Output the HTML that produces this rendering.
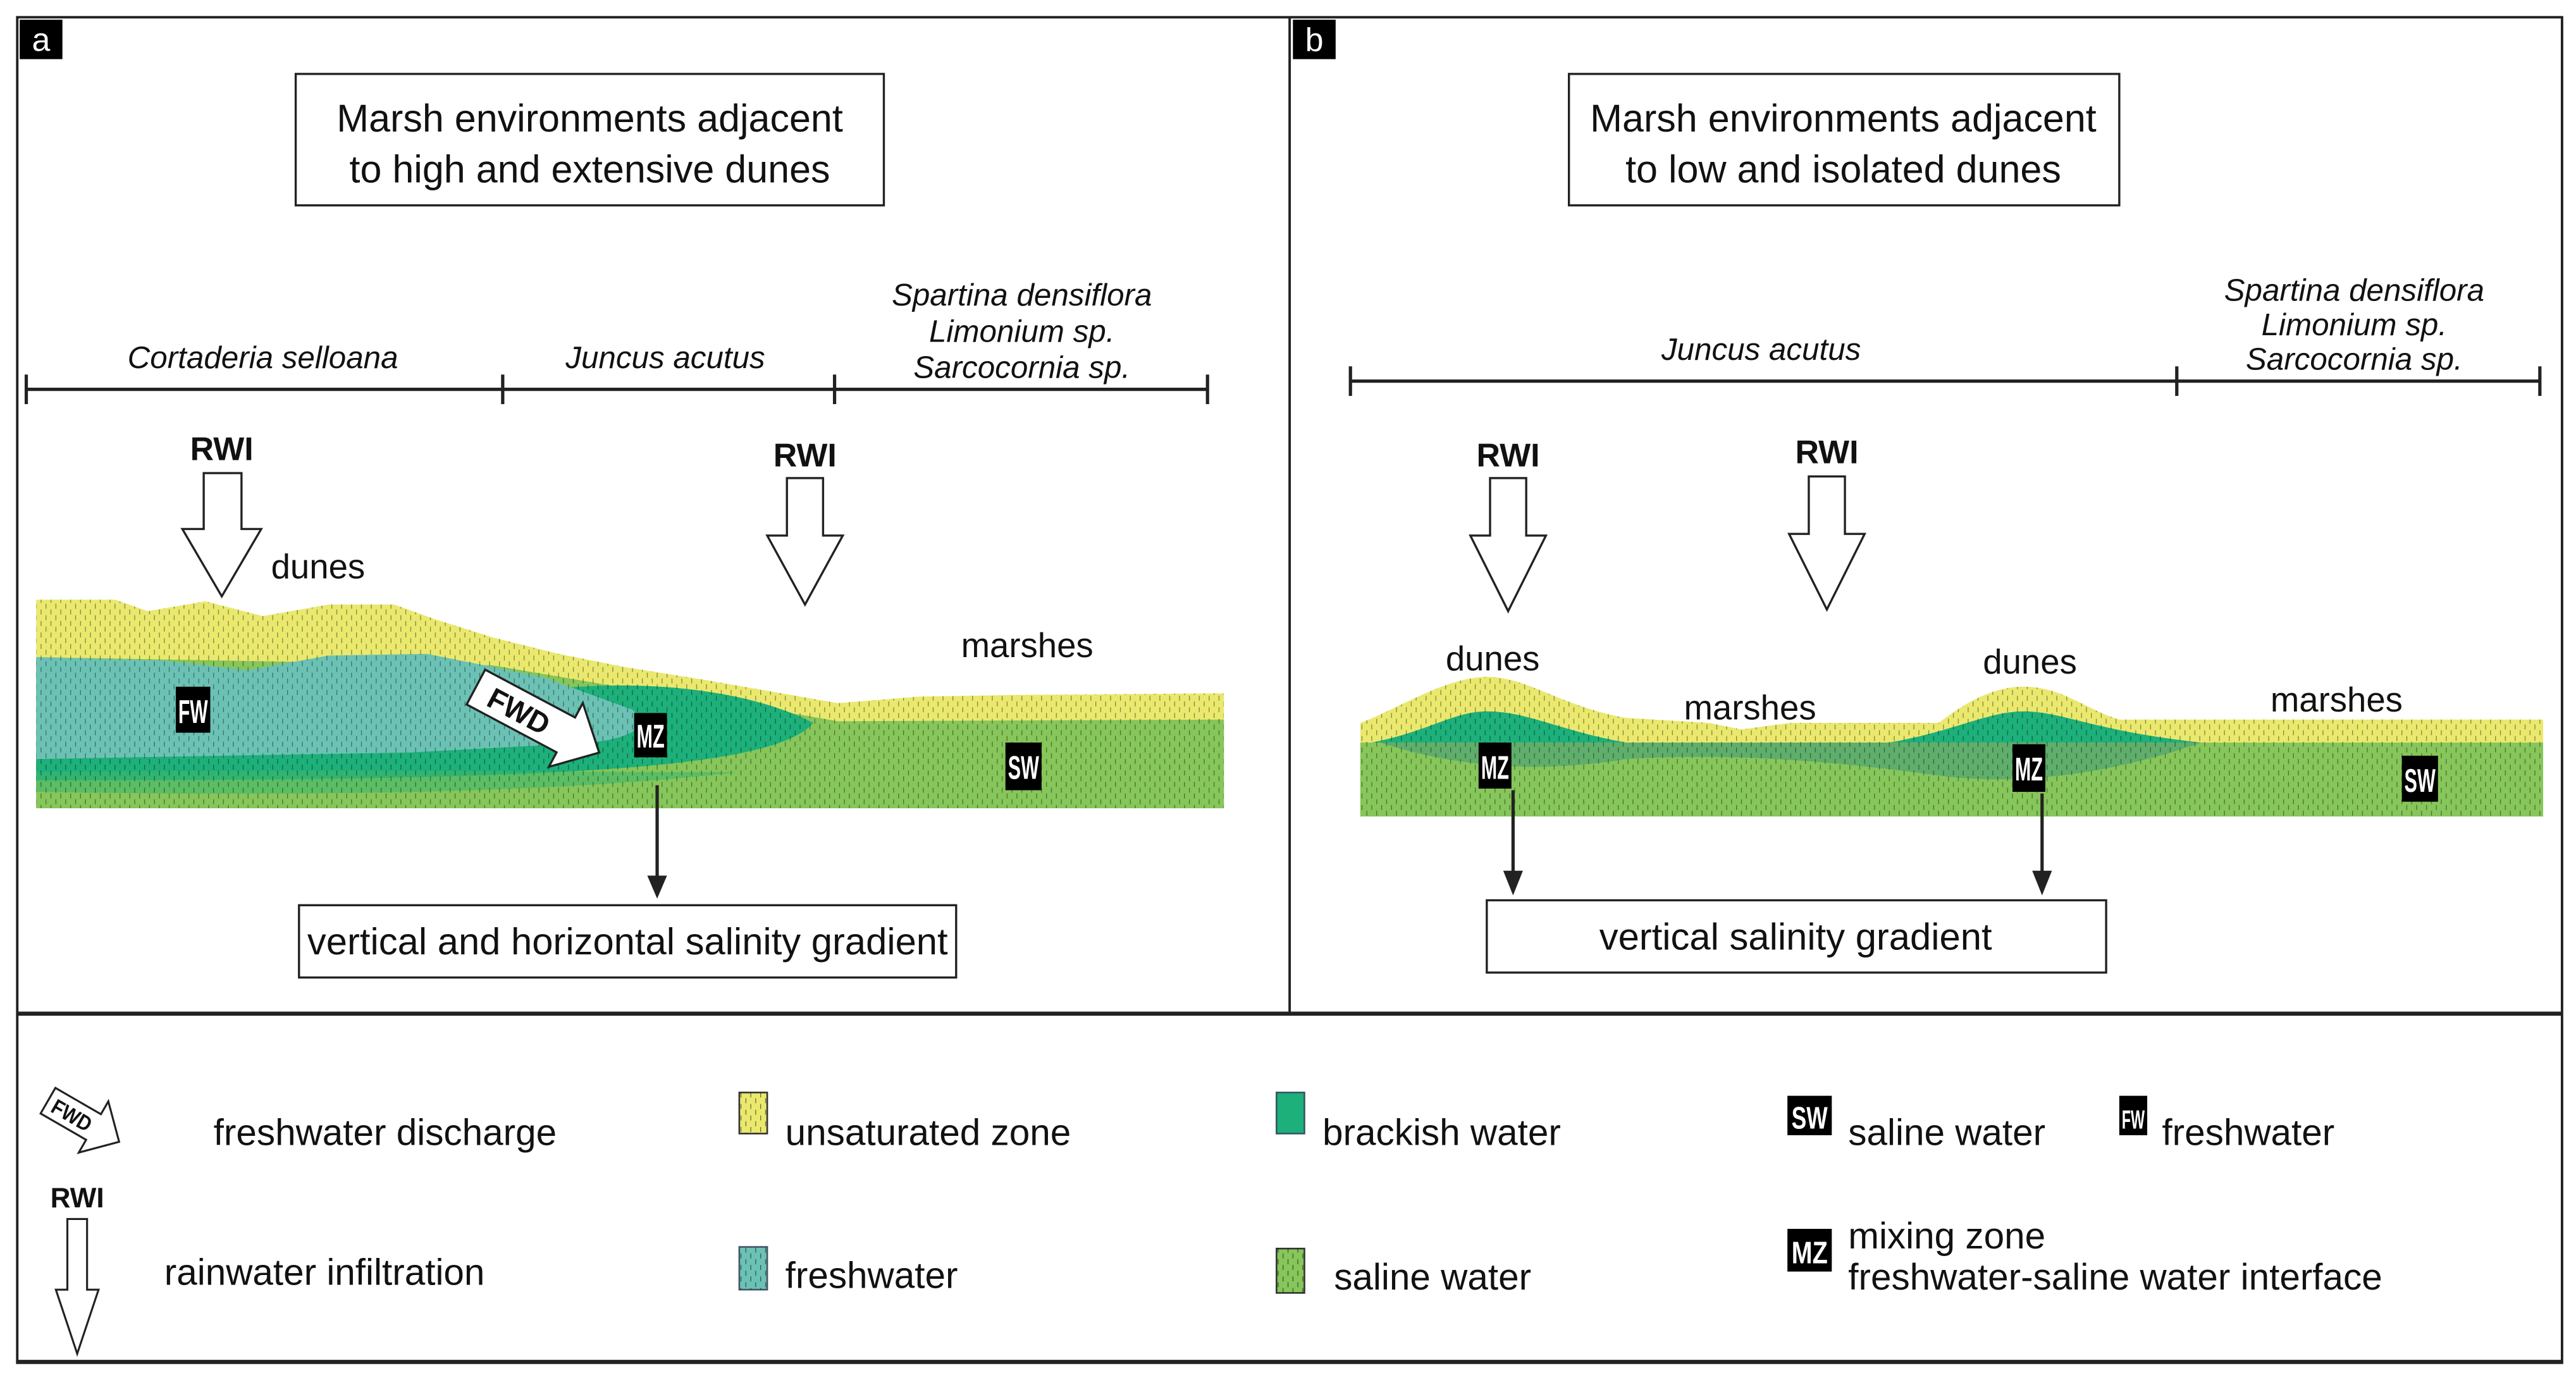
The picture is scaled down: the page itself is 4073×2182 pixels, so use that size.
<!DOCTYPE html>
<html><head><meta charset="utf-8"><style>
html,body{margin:0;padding:0;background:#fff;}
svg{display:block;}
text{font-family:"Liberation Sans",sans-serif;fill:#111;}
.b{font-weight:bold;}
.i{font-style:italic;}
</style></head><body>
<svg width="4073" height="2182" viewBox="0 0 1568 840" preserveAspectRatio="none" xmlns="http://www.w3.org/2000/svg">
<defs>
<pattern id="st" width="6" height="7" patternUnits="userSpaceOnUse">
<line x1="1" y1="0" x2="1" y2="3" stroke="#000" stroke-width="0.5" opacity="0.55"/>
<line x1="4" y1="3.5" x2="4" y2="6.5" stroke="#000" stroke-width="0.5" opacity="0.55"/>
</pattern>
<clipPath id="ca"><path d="M22,365 L70,365 L90,372 L125,366 L160,375 L200,368 L240,368 L265,377 L300,388 L340,398 L380,406 L430,414 L470,421 L510,428 L560,424 L620,423 L745,422 L745,492 L22,492 Z"/></clipPath>
<clipPath id="cb"><path d="M828,440 C850,432 880,412 905,412 C930,412 950,430 990,437 L1040,440 L1060,444 L1090,440 L1180,440 C1200,425 1215,418 1232,418 C1255,418 1270,432 1290,438 L1548,438 L1548,497 L828,497 Z"/></clipPath>
</defs>
<rect x="0" y="0" width="1568" height="840" fill="#fff"/>
<!-- frames -->
<rect x="10.5" y="10.5" width="1549" height="819" fill="none" stroke="#222" stroke-width="1.5"/>
<line x1="785" y1="10" x2="785" y2="617" stroke="#222" stroke-width="1.5"/>
<line x1="10" y1="617" x2="1560" y2="617" stroke="#222" stroke-width="2.5"/>
<line x1="10" y1="829" x2="1560" y2="829" stroke="#222" stroke-width="2.5"/>
<rect x="12" y="12" width="26" height="24" fill="#000"/>
<text x="25" y="31" font-size="20" text-anchor="middle" style="fill:#fff">a</text>
<rect x="787" y="12" width="26" height="24" fill="#000"/>
<text x="800" y="31" font-size="20" text-anchor="middle" style="fill:#fff">b</text>

<!-- titles -->
<rect x="180" y="45" width="358" height="80" fill="#fff" stroke="#222" stroke-width="1.3"/>
<text x="359" y="80" font-size="23.5" text-anchor="middle">Marsh environments adjacent</text>
<text x="359" y="111" font-size="23.5" text-anchor="middle">to high and extensive dunes</text>
<rect x="955" y="45" width="335" height="80" fill="#fff" stroke="#222" stroke-width="1.3"/>
<text x="1122" y="80" font-size="23.5" text-anchor="middle">Marsh environments adjacent</text>
<text x="1122" y="111" font-size="23.5" text-anchor="middle">to low and isolated dunes</text>

<!-- scale -->
<g stroke="#222" stroke-width="2">
<line x1="16" y1="237" x2="735" y2="237"/>
<line x1="16" y1="228" x2="16" y2="246"/><line x1="306" y1="228" x2="306" y2="246"/>
<line x1="508" y1="228" x2="508" y2="246"/><line x1="735" y1="228" x2="735" y2="246"/>
<line x1="822" y1="232" x2="1546" y2="232"/>
<line x1="822" y1="223" x2="822" y2="241"/><line x1="1325" y1="223" x2="1325" y2="241"/>
<line x1="1546" y1="223" x2="1546" y2="241"/>
</g>
<g font-size="19" text-anchor="middle">
<text class="i" x="160" y="224">Cortaderia selloana</text>
<text class="i" x="405" y="224">Juncus acutus</text>
<text class="i" x="622" y="186">Spartina densiflora</text>
<text class="i" x="622" y="208">Limonium sp.</text>
<text class="i" x="622" y="230">Sarcocornia sp.</text>
<text class="i" x="1072" y="219">Juncus acutus</text>
<text class="i" x="1433" y="183">Spartina densiflora</text>
<text class="i" x="1433" y="204">Limonium sp.</text>
<text class="i" x="1433" y="225">Sarcocornia sp.</text>
</g>

<!-- cross-section a -->
<path d="M22,365 L70,365 L90,372 L125,366 L160,375 L200,368 L240,368 L265,377 L300,388 L340,398 L380,406 L430,414 L470,421 L510,428 L560,424 L620,423 L745,422 L745,492 L22,492 Z" fill="#eae96e"/>
<path d="M22,400 L300,405 L400,422 L470,432 L510,439 L745,438 L745,492 L22,492 Z" fill="#86c65a"/>
<path d="M22,452 C150,450 260,440 330,420 C400,412 460,422 495,440 C470,470 320,475 22,475 Z" fill="#1db07a"/>
<path d="M22,470 C200,468 350,470 450,470 C320,485 150,484 22,482 Z" fill="#3fb76a" opacity="0.6"/>
<path d="M22,400 L100,402 L150,408 L200,399 L260,398 L330,412 L385,432 Q400,447 360,452 L250,458 L22,462 Z" fill="#6bc2b4"/>
<rect x="22" y="360" width="723" height="132" fill="url(#st)" opacity="0.8" clip-path="url(#ca)"/>

<!-- cross-section b -->
<path d="M828,440 C850,432 880,412 905,412 C930,412 950,430 990,437 L1040,440 L1060,444 L1090,440 L1180,440 C1200,425 1215,418 1232,418 C1255,418 1270,432 1290,438 L1548,438 L1548,497 L828,497 Z" fill="#eae96e"/>
<rect x="828" y="452" width="720" height="45" fill="#86c65a"/>
<path d="M835,452 C870,445 885,433 905,433 C930,433 950,445 990,452 L1150,452 C1190,445 1210,433 1232,433 C1255,433 1275,445 1340,452 Z" fill="#1db07a"/>
<path d="M840,452 C880,465 930,472 990,462 C1060,458 1120,464 1180,472 C1240,480 1300,466 1340,452 Z" fill="#3f9a7a" opacity="0.55"/>
<rect x="828" y="405" width="720" height="92" fill="url(#st)" opacity="0.8" clip-path="url(#cb)"/>

<!-- labels -->
<g font-size="21">
<text x="165" y="352">dunes</text>
<text x="585" y="400">marshes</text>
<text x="880" y="408">dunes</text>
<text x="1207" y="410">dunes</text>
<text x="1025" y="438">marshes</text>
<text x="1382" y="433">marshes</text>
</g>
<g font-size="20" text-anchor="middle">
<rect x="107" y="418" width="21" height="28" fill="#000"/><text class="b" x="117.5" y="440" textLength="18" lengthAdjust="spacingAndGlyphs" style="fill:#fff">FW</text>
<rect x="386" y="434" width="20" height="27" fill="#000"/><text class="b" x="396" y="455" textLength="17" lengthAdjust="spacingAndGlyphs" style="fill:#fff">MZ</text>
<rect x="612" y="452" width="22" height="29" fill="#000"/><text class="b" x="623" y="474" textLength="19" lengthAdjust="spacingAndGlyphs" style="fill:#fff">SW</text>
<rect x="900" y="452" width="20" height="28" fill="#000"/><text class="b" x="910" y="474" textLength="17" lengthAdjust="spacingAndGlyphs" style="fill:#fff">MZ</text>
<rect x="1225" y="453" width="20" height="29" fill="#000"/><text class="b" x="1235" y="475" textLength="17" lengthAdjust="spacingAndGlyphs" style="fill:#fff">MZ</text>
<rect x="1462" y="460" width="22" height="28" fill="#000"/><text class="b" x="1473" y="482" textLength="19" lengthAdjust="spacingAndGlyphs" style="fill:#fff">SW</text>
</g>

<!-- FWD arrow a -->
<g transform="translate(325,437) rotate(28)">
<path d="M-40,-12 L22,-12 L22,-22 L45,0 L22,22 L22,12 L-40,12 Z" fill="#fff" stroke="#222" stroke-width="1.3"/>
<text x="-10" y="7" font-size="18" class="b" text-anchor="middle" textLength="40" lengthAdjust="spacingAndGlyphs">FWD</text>
</g>

<!-- RWI arrows -->
<g fill="#fff" stroke="#222" stroke-width="1.3">
<path d="M124,288 L147,288 L147,322 L159,322 L135,363 L111,322 L124,322 Z"/>
<path d="M479,291 L501,291 L501,326 L513,326 L490,368 L467,326 L479,326 Z"/>
<path d="M907,291 L929,291 L929,326 L941,326 L918,372 L895,326 L907,326 Z"/>
<path d="M1101,290 L1123,290 L1123,325 L1135,325 L1112,371 L1089,325 L1101,325 Z"/>
</g>
<g font-size="20" text-anchor="middle">
<text class="b" x="135" y="280">RWI</text>
<text class="b" x="490" y="284">RWI</text>
<text class="b" x="918" y="284">RWI</text>
<text class="b" x="1112" y="282">RWI</text>
</g>

<!-- down arrows -->
<g stroke="#222" stroke-width="2">
<line x1="400" y1="478" x2="400" y2="535"/>
<line x1="921" y1="481" x2="921" y2="532"/>
<line x1="1243" y1="483" x2="1243" y2="532"/>
</g>
<g fill="#222">
<path d="M394,533 L406,533 L400,547 Z"/>
<path d="M915,530 L927,530 L921,545 Z"/>
<path d="M1237,530 L1249,530 L1243,545 Z"/>
</g>

<!-- bottom boxes -->
<rect x="182" y="551" width="400" height="44" fill="#fff" stroke="#222" stroke-width="1.3"/>
<text x="382" y="581" font-size="23" text-anchor="middle">vertical and horizontal salinity gradient</text>
<rect x="905" y="548" width="377" height="44" fill="#fff" stroke="#222" stroke-width="1.3"/>
<text x="1093" y="578" font-size="23" text-anchor="middle">vertical  salinity gradient</text>

<!-- legend -->
<g transform="translate(50,682) rotate(30)">
<path d="M-24,-9 L8,-9 L8,-18 L26,0 L8,18 L8,9 L-24,9 Z" fill="#fff" stroke="#222" stroke-width="1.2"/>
<text x="-7" y="5" font-size="13" class="b" text-anchor="middle" textLength="26" lengthAdjust="spacingAndGlyphs">FWD</text>
</g>
<text x="130" y="697" font-size="22.5">freshwater discharge</text>
<text x="47" y="735" font-size="17" class="b" text-anchor="middle">RWI</text>
<path d="M41,742 L53,742 L53,785 L60,785 L47,824 L34,785 L41,785 Z" fill="#fff" stroke="#222" stroke-width="1.2"/>
<text x="100" y="782" font-size="22.5">rainwater infiltration</text>

<rect x="450" y="665" width="17" height="25" fill="#eae96e" stroke="#333" stroke-width="1"/>
<rect x="450" y="665" width="17" height="25" fill="url(#st)"/>
<text x="478" y="697" font-size="22.5">unsaturated zone</text>
<rect x="450" y="759" width="17" height="26" fill="#6bc2b4" stroke="#456" stroke-width="1"/>
<rect x="450" y="759" width="17" height="26" fill="url(#st)"/>
<text x="478" y="784" font-size="22.5">freshwater</text>
<rect x="777" y="665" width="17" height="25" fill="#1db07a" stroke="#356" stroke-width="1"/>
<text x="805" y="697" font-size="22.5">brackish water</text>
<rect x="777" y="760" width="17" height="27" fill="#86c65a" stroke="#333" stroke-width="1"/>
<rect x="777" y="760" width="17" height="27" fill="url(#st)"/>
<text x="812" y="785" font-size="22.5">saline water</text>

<rect x="1088" y="667" width="27" height="24" fill="#000"/>
<text x="1101.5" y="687" font-size="19" class="b" text-anchor="middle" textLength="22" lengthAdjust="spacingAndGlyphs" style="fill:#fff">SW</text>
<text x="1125" y="697" font-size="22.5">saline water</text>
<rect x="1290" y="667" width="17" height="24" fill="#000"/>
<text x="1298.5" y="687" font-size="16" class="b" text-anchor="middle" textLength="14" lengthAdjust="spacingAndGlyphs" style="fill:#fff">FW</text>
<text x="1316" y="697" font-size="22.5">freshwater</text>
<rect x="1088" y="748" width="27" height="26" fill="#000"/>
<text x="1101.5" y="769" font-size="19" class="b" text-anchor="middle" textLength="22" lengthAdjust="spacingAndGlyphs" style="fill:#fff">MZ</text>
<text x="1125" y="760" font-size="22.5">mixing zone</text>
<text x="1125" y="785" font-size="22.5">freshwater-saline water interface</text>
</svg>
</body></html>
